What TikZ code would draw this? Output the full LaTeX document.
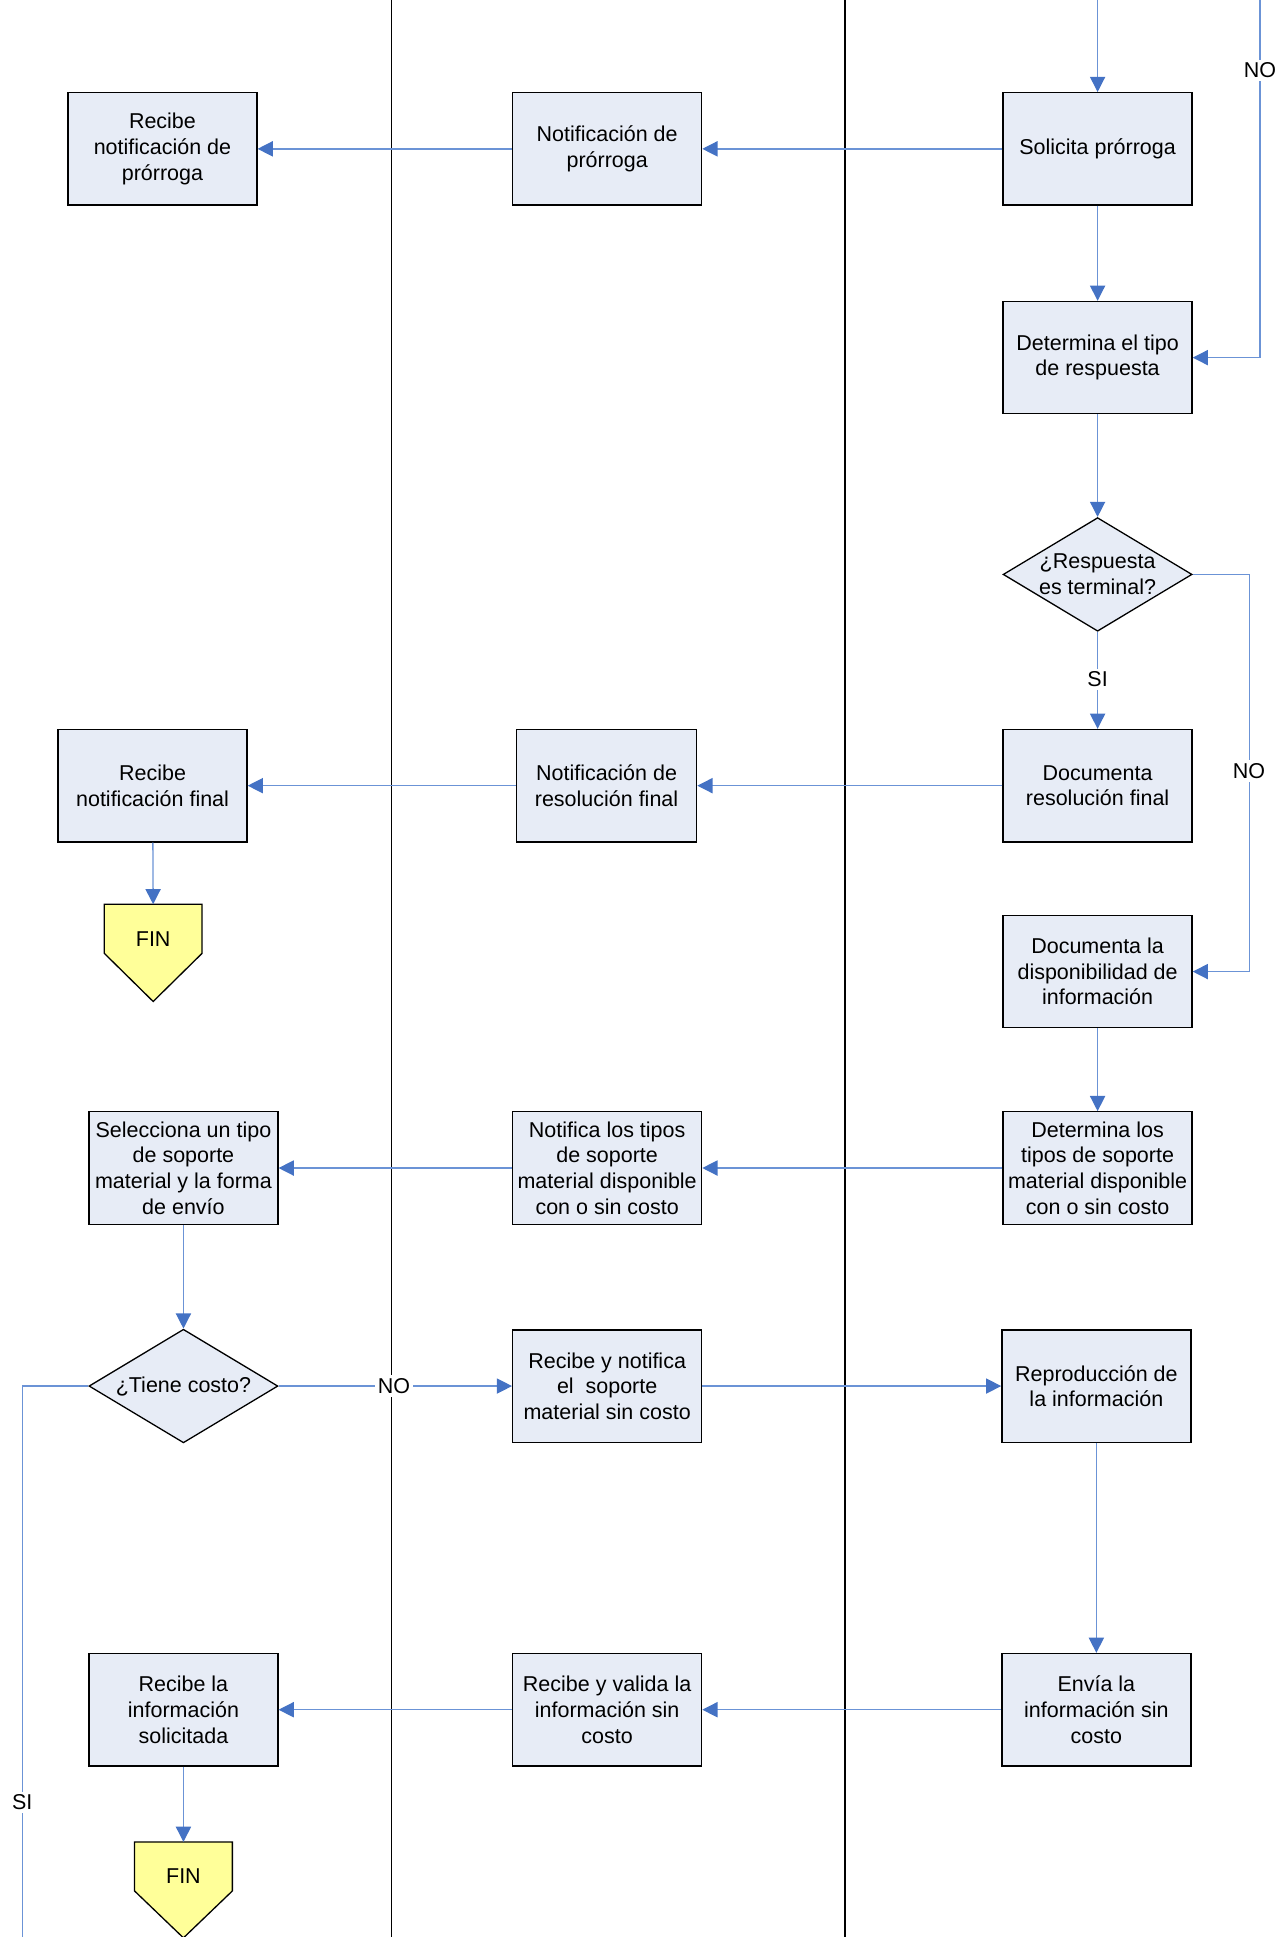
\documentclass[tikz,border=0pt]{standalone}
\usepackage{fontspec}
\setmainfont{Liberation Sans}
\usetikzlibrary{arrows.meta,shapes.geometric,calc}
\definecolor{boxblue}{HTML}{E7ECF6}
\definecolor{lineblue}{HTML}{6B93D6}
\definecolor{tipblue}{HTML}{4472C4}
\definecolor{finyellow}{HTML}{FFFF99}
\newcommand{\flowfont}{\fontsize{9.9}{11.8}\selectfont}
\begin{document}
\begin{tikzpicture}[x=0.02cm, y=-0.02cm,
  act/.style={rectangle, draw, line width=0.6pt, fill=boxblue, minimum width=3.06cm, minimum height=1.82cm, align=center, inner sep=1pt, font=\flowfont},
  dec/.style={diamond, draw, line width=0.6pt, fill=boxblue, minimum width=3.06cm, minimum height=1.84cm, inner sep=0pt},
  finbox/.style={rectangle, minimum width=1.57cm, minimum height=0.78cm, inner sep=0pt, anchor=north},
  finshape/.style={draw, line width=0.6pt, fill=finyellow},
  txt/.style={align=center, inner sep=0pt, font=\flowfont},
  lbl/.style={fill=white, inner sep=1.5pt, font=\flowfont},
  flow/.style={draw=lineblue, line width=0.6pt, -{Triangle[length=7pt, width=7pt, color=tipblue]}},
  plain/.style={draw=lineblue, line width=0.6pt}]
\useasboundingbox (0,0) rectangle (1038,1568);
% lanes
\draw[line width=0.5pt] (317,0) -- (317,1568);
\draw[line width=0.9pt] (684,0) -- (684,1568);
\coordinate (topin) at (888.5,0);
\coordinate (topno) at (1020,0);
\coordinate (sibot) at (18,1568);

% prorroga
\node[act] (act1) at (131.5,120.5) {Recibe\\notificación de\\prórroga};
\node[act] (act2) at (491.5,120.5) {Notificación de\\prórroga};
\node[act] (act3) at (888.5,120.5) {Solicita prórroga};
\node[act] (act4) at (888.5,289.5) {Determina el tipo\\de respuesta};
\draw[flow] (topin) -- (act3);
\draw[flow] (act3) -- (act2);
\draw[flow] (act2) -- (act1);
\draw[flow] (act3) -- (act4);
\draw[flow] (topno) |- (act4.east);
\node[lbl] (no1) at (1020,57) {NO};

% respuesta
\node[dec] (dec1) at (888.5,465) {};
\node[txt] (dec1t) at (dec1) {¿Respuesta\\es terminal?};
\draw[flow] (act4) -- (dec1);
\node[act] (act5) at (888.5,636) {Documenta\\resolución final};
\node[act, minimum width=2.92cm] (act6) at (491,636) {Notificación de\\resolución final};
\node[act] (act7) at (123.5,636) {Recibe\\notificación final};
\draw[flow] (dec1) -- (act5);
\node[lbl] (si1) at (888.5,550) {SI};
\draw[flow] (act5) -- (act6);
\draw[flow] (act6) -- (act7);
\node[finbox] (fin1) at (124,732) {};
\draw[finshape] (fin1.north west) -- (fin1.north east) -- (fin1.south east) -- ($(fin1.south)+(0,39)$) -- (fin1.south west) -- cycle;
\node[txt] (fin1t) at (124,760) {FIN};
\draw[flow] (act7) -- (fin1.north);

% disponibilidad
\node[act] (act8) at (888.5,786.5) {Documenta la\\disponibilidad de\\información};
\draw[flow] (dec1.east) -- ++(46,0) |- (act8.east);
\node[lbl] (no2) at (1011,624) {NO};
\node[act] (act9) at (888.5,945.5) {Determina los\\tipos de soporte\\material disponible\\con o sin costo};
\node[act] (act10) at (491.5,945.5) {Notifica los tipos\\de soporte\\material disponible\\con o sin costo};
\node[act] (act11) at (148.5,945.5) {Selecciona un tipo\\de soporte\\material y la forma\\de envío};
\draw[flow] (act8) -- (act9);
\draw[flow] (act9) -- (act10);
\draw[flow] (act10) -- (act11);

% costo
\node[dec] (dec2) at (148.5,1122) {};
\node[txt] (dec2t) at (dec2) {¿Tiene costo?};
\draw[flow] (act11) -- (dec2);
\node[act] (act12) at (491.5,1122) {Recibe y notifica\\el\ \ soporte\\material sin costo};
\node[act] (act13) at (887.5,1122) {Reproducción de\\la información};
\draw[flow] (dec2) -- (act12);
\node[lbl] (no3) at (319,1122) {NO};
\draw[flow] (act12) -- (act13);
\node[act] (act14) at (887.5,1384) {Envía la\\información sin\\costo};
\node[act] (act15) at (491.5,1384) {Recibe y valida la\\información sin\\costo};
\node[act] (act16) at (148.5,1384) {Recibe la\\información\\solicitada};
\draw[flow] (act13) -- (act14);
\draw[flow] (act14) -- (act15);
\draw[flow] (act15) -- (act16);
\node[finbox] (fin2) at (148.5,1491) {};
\draw[finshape] (fin2.north west) -- (fin2.north east) -- (fin2.south east) -- ($(fin2.south)+(0,38)$) -- (fin2.south west) -- cycle;
\node[txt] (fin2t) at (148.5,1519) {FIN};
\draw[flow] (act16) -- (fin2.north);
\draw[plain] (dec2.west) -| (sibot);
\node[lbl] (si2) at (18,1459) {SI};
\end{tikzpicture}
\end{document}
